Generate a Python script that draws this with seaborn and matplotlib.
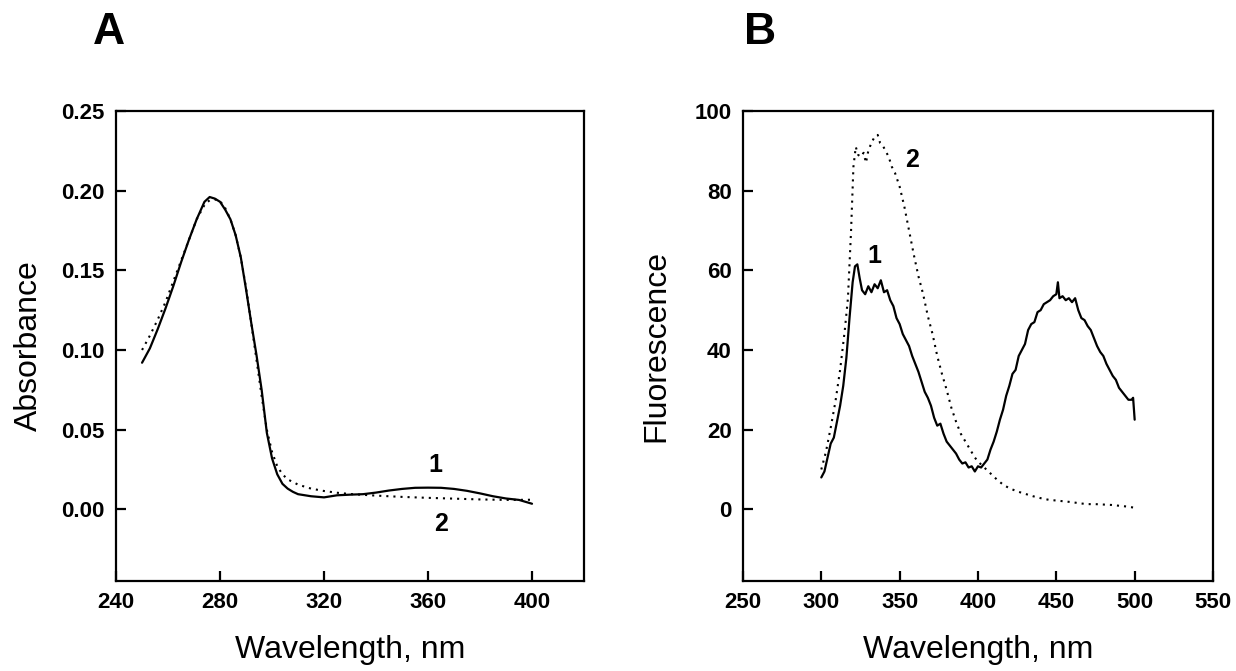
import pandas as pd
import seaborn as sns
import matplotlib.pyplot as plt

# panel A - absorbance spectra
abs_wl_1 = [250, 253, 256, 259, 262, 265, 268, 271, 274, 276, 278, 280, 282, 284, 286, 288, 290,
            292, 294, 296, 298, 300, 302, 304, 306, 308, 310, 315, 320, 325, 330, 335, 340, 345,
            350, 355, 360, 365, 370, 375, 380, 385, 390, 395, 400]
abs_val_1 = [0.092, 0.101, 0.113, 0.126, 0.140, 0.155, 0.169, 0.182, 0.193, 0.196, 0.195, 0.193,
             0.188, 0.182, 0.172, 0.158, 0.138, 0.117, 0.097, 0.075, 0.048, 0.032, 0.022, 0.016,
             0.013, 0.011, 0.0095, 0.0082, 0.0075, 0.0088, 0.0092, 0.0095, 0.0105, 0.0118, 0.0128,
             0.0135, 0.0136, 0.0135, 0.0128, 0.0116, 0.0100, 0.0082, 0.0068, 0.0059, 0.0035]
abs_wl_2 = [250, 253, 256, 259, 262, 265, 268, 271, 274, 276, 278, 280, 282, 284, 286, 288, 290,
            292, 294, 296, 298, 300, 302, 304, 306, 310, 315, 320, 325, 330, 340, 350, 360, 370,
            380, 390, 400]
abs_val_2 = [0.100, 0.109, 0.119, 0.130, 0.143, 0.156, 0.169, 0.182, 0.191, 0.194, 0.1945, 0.1935,
             0.189, 0.182, 0.172, 0.158, 0.139, 0.117, 0.094, 0.071, 0.050, 0.036, 0.027, 0.022,
             0.0188, 0.0155, 0.013, 0.0115, 0.0104, 0.0096, 0.0086, 0.0078, 0.0072, 0.0067,
             0.0062, 0.0059, 0.0060]

# panel B - fluorescence spectra
fl_wl_1 = [300, 302, 304, 306, 308, 310, 312, 314, 316, 318, 320, 321.5, 323, 324.5, 326, 328, 330,
           332, 334, 336, 338, 340, 342, 344, 346, 348, 350, 352, 354, 356, 358, 360, 362, 364,
           366, 368, 370, 372, 374, 376, 378, 380, 382, 384, 386, 388, 390, 392, 394, 396, 398,
           400, 402, 404, 406, 408, 410, 412, 414, 416, 418, 420, 422, 424, 426, 428, 430, 432,
           434, 436, 438, 440, 442, 444, 446, 448, 450, 451, 452, 454, 456, 458, 460, 462, 464,
           466, 468, 470, 472, 474, 476, 478, 480, 482, 484, 486, 488, 490, 492, 494, 496, 498,
           499, 500]
fl_val_1 = [8.0, 9.5, 13, 16.5, 18, 22, 26, 31, 38, 48, 57, 61, 61.5, 58, 55, 54, 56,
            54.5, 56.5, 55.5, 57.5, 54.5, 55, 52.5, 51, 48, 46.5, 44, 42.5, 41, 38.5, 36.5, 34.5, 32,
            29.5, 28, 26, 23, 21, 21.5, 19, 17, 16, 15, 14, 12.5, 11.5, 11.8, 10.5, 10.8, 9.5,
            10.8, 10.5, 11.5, 12.5, 15, 17, 19.5, 22.5, 25, 28.5, 31, 34, 35, 38.5, 40, 41.5, 45,
            46.5, 47, 49.5, 50, 51.5, 52, 52.5, 53.5, 54, 57, 53, 53.5, 52.5, 53, 52, 53, 50,
            48, 47.5, 46, 45, 43, 41, 39.5, 38.5, 36.5, 35, 33.5, 32.5, 30.5, 29.5, 28.5, 27.5, 27.5,
            28, 22.5]
fl_wl_2 = [300, 303, 306, 309, 312, 315, 317, 319, 320.5, 322, 323.5, 325, 327, 328.5, 330, 332,
           334, 336, 337.5, 339, 341, 343, 345, 347, 350, 353, 356, 359, 362, 365, 368, 371, 374,
           377, 380, 383, 386, 389, 392, 395, 398, 400, 404, 408, 412, 416, 420, 425, 430, 435,
           440, 445, 450, 455, 460, 465, 470, 475, 480, 485, 490, 495, 500]
fl_val_2 = [10, 14.5, 20.5, 27, 35, 45, 53, 70, 86, 91, 89, 88.5, 89.5, 87, 90, 92,
            93.5, 94, 92, 91.5, 90, 88.5, 86, 84.5, 81, 76, 70, 64, 58.5, 54, 48.5, 44, 38.5,
            34, 30, 25.5, 22, 19, 17, 15, 13, 12, 10.5, 9, 7.5, 6.2, 5.3, 4.5, 3.9, 3.3,
            2.8, 2.4, 2.2, 2.0, 1.8, 1.5, 1.3, 1.3, 1.2, 1.1, 0.9, 0.7, 0.4]

sns.set_style("ticks")
plt.rcParams['font.family'] = ['Liberation Sans', 'DejaVu Sans']
plt.rcParams.update({"text.color": "black", "axes.labelcolor": "black",
                     "xtick.color": "black", "ytick.color": "black",
                     "axes.edgecolor": "black"})

fig = plt.figure(figsize=(12.36, 6.71), dpi=100)
axA = fig.add_axes([0.0939, 0.1341, 0.3786, 0.7005])
axB = fig.add_axes([0.6011, 0.1341, 0.3803, 0.7005])

dots = (0, (1, 2.4))

sns.lineplot(x=abs_wl_1, y=abs_val_1, ax=axA, color="black", lw=1.6)
sns.lineplot(x=abs_wl_2, y=abs_val_2, ax=axA, color="black", lw=1.5, linestyle=dots)
sns.lineplot(x=fl_wl_1, y=fl_val_1, ax=axB, color="black", lw=1.6)
sns.lineplot(x=fl_wl_2, y=fl_val_2, ax=axB, color="black", lw=1.5, linestyle=dots)

axA.set_xlim(240, 420)
axA.set_ylim(-0.045, 0.25)
axA.set_xticks([240, 280, 320, 360, 400])
axA.set_yticks([0.0, 0.05, 0.10, 0.15, 0.20, 0.25])
axA.set_yticklabels(["0.00", "0.05", "0.10", "0.15", "0.20", "0.25"])
axA.set_ylabel("Absorbance", fontsize=23)
axA.text(363, 0.028, "1", fontsize=18, fontweight="bold", ha="center", va="center")
axA.text(365, -0.0094, "2", fontsize=18, fontweight="bold", ha="center", va="center")

axB.set_xlim(250, 550)
axB.set_ylim(-18, 100)
axB.set_xticks([250, 300, 350, 400, 450, 500, 550])
axB.set_yticks([0, 20, 40, 60, 80, 100])
axB.set_ylabel("Fluorescence", fontsize=23)
axB.text(334, 63.5, "1", fontsize=18, fontweight="bold", ha="center", va="center")
axB.text(358, 87.6, "2", fontsize=18, fontweight="bold", ha="center", va="center")

for ax in (axA, axB):
    ax.set_xlabel("Wavelength, nm", fontsize=23)
    ax.xaxis.set_label_coords(0.5, -0.115)
    for s in ax.spines.values():
        s.set_visible(True)
        s.set_linewidth(1.6)
        s.set_color("black")
    ax.tick_params(direction="in", length=7, width=1.6, labelsize=16, pad=8)
    for lab in ax.get_xticklabels() + ax.get_yticklabels():
        lab.set_fontweight("bold")

axA.yaxis.set_label_coords(-0.155, 0.5)
axB.yaxis.set_label_coords(-0.152, 0.5)

fig.text(0.088, 0.952, "A", fontsize=32, fontweight="bold", ha="center", va="center")
fig.text(0.615, 0.952, "B", fontsize=32, fontweight="bold", ha="center", va="center")

fig.savefig("out.png", dpi=100)
